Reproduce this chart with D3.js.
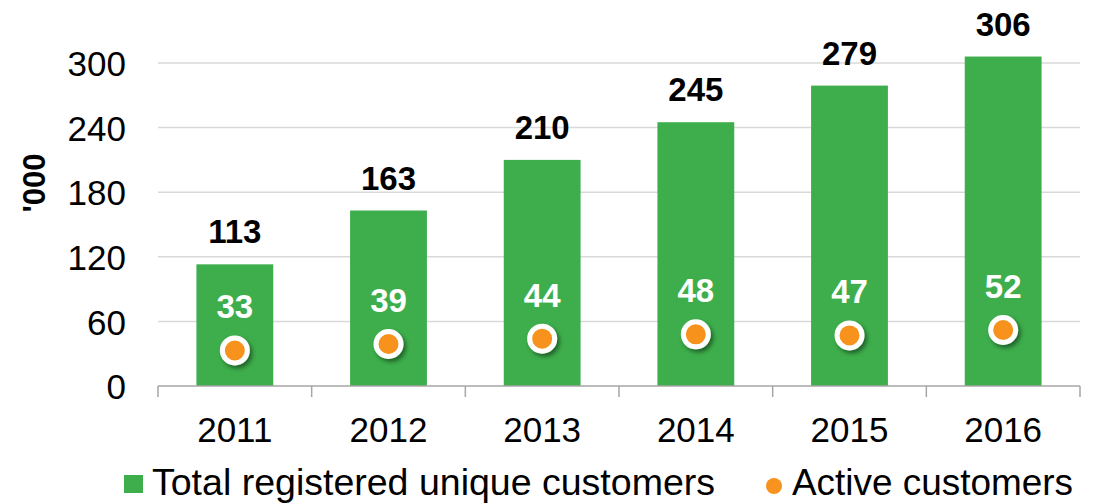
<!DOCTYPE html>
<html>
<head>
<meta charset="utf-8">
<script src="https://cdn.jsdelivr.net/npm/d3@7"></script>
<style>
  body { margin: 0; background: #fff; }
  svg { font-family: Arial, "Liberation Sans", sans-serif; display: block; }
</style>
</head>
<body>
<div id="chart"></div>
<script>
// Chart data
const years = ["2011", "2012", "2013", "2014", "2015", "2016"];
const totalCustomers = [113, 163, 210, 245, 279, 306];
const activeCustomers = [33, 39, 44, 48, 47, 52];
const yTicks = [0, 60, 120, 180, 240, 300];

const width = 1094, height = 504;
const margin = {top: 0, left: 158, right: 14};
const plotTop = 63, plotBottom = 386;

const green = "#3DAE4B", orange = "#F7931E";

const svg = d3.select("#chart").append("svg")
    .attr("width", width)
    .attr("height", height);

// shadow for the dots
const defs = svg.append("defs");
const f = defs.append("filter").attr("id", "shadow")
    .attr("x", "-50%").attr("y", "-50%").attr("width", "200%").attr("height", "200%");
f.append("feDropShadow").attr("dx", 2.5).attr("dy", 3).attr("stdDeviation", 2)
    .attr("flood-color", "#000").attr("flood-opacity", 0.45);

// Scales
const x = d3.scaleBand()
    .domain(years)
    .range([margin.left, width - margin.right])
    .paddingInner(0.5)
    .paddingOuter(0.25);

const y = d3.scaleLinear()
    .domain([0, 300])
    .range([plotBottom, plotTop]);

// Gridlines
svg.append("g")
    .selectAll("line")
    .data(yTicks.filter(d => d > 0))
    .enter().append("line")
    .attr("x1", margin.left)
    .attr("x2", width - margin.right)
    .attr("y1", d => y(d))
    .attr("y2", d => y(d))
    .attr("stroke", "#d9d9d9")
    .attr("stroke-width", 1.5);

// Y axis labels
svg.append("g")
    .attr("transform", "translate(" + margin.left + ",0)")
    .call(d3.axisLeft(y).tickValues(yTicks).tickSize(0).tickPadding(32))
    .call(g => g.select(".domain").remove())
    .call(g => g.selectAll("text")
        .attr("font-size", 35)
        .attr("font-family", "Arial, 'Liberation Sans', sans-serif")
        .attr("fill", "#000")
        .attr("dy", "0.36em"));

// Y axis title
svg.append("text")
    .attr("transform", "translate(45,183) rotate(-90)")
    .attr("text-anchor", "middle")
    .attr("font-size", 31)
    .attr("font-weight", "bold")
    .text("'000");

// Bars
svg.selectAll(".bar")
    .data(years)
    .enter().append("rect")
    .attr("class", "bar")
    .attr("x", d => x(d))
    .attr("width", x.bandwidth())
    .attr("y", (d, i) => y(totalCustomers[i]))
    .attr("height", (d, i) => plotBottom - y(totalCustomers[i]))
    .attr("fill", green);

// X axis line and category ticks
const step = x.step();
const bounds = d3.range(years.length + 1).map(i => margin.left + i * step);
svg.append("line")
    .attr("x1", margin.left).attr("x2", width - margin.right)
    .attr("y1", plotBottom).attr("y2", plotBottom)
    .attr("stroke", "#a6a6a6").attr("stroke-width", 1.5);
svg.append("g").selectAll("line")
    .data(bounds)
    .enter().append("line")
    .attr("x1", d => d).attr("x2", d => d)
    .attr("y1", plotBottom).attr("y2", plotBottom + 11)
    .attr("stroke", "#a6a6a6").attr("stroke-width", 1.5);

// X labels
svg.append("g").selectAll("text")
    .data(years)
    .enter().append("text")
    .attr("x", d => x(d) + x.bandwidth() / 2)
    .attr("y", 442)
    .attr("text-anchor", "middle")
    .attr("font-size", 35)
    .text(d => d);

// Total labels above bars
svg.append("g").selectAll("text")
    .data(years)
    .enter().append("text")
    .attr("x", d => x(d) + x.bandwidth() / 2)
    .attr("y", (d, i) => y(totalCustomers[i]) - 21)
    .attr("text-anchor", "middle")
    .attr("font-size", 33)
    .attr("font-weight", "bold")
    .text((d, i) => totalCustomers[i]);

// Active customer dots
svg.append("g").selectAll("circle")
    .data(years)
    .enter().append("circle")
    .attr("cx", d => x(d) + x.bandwidth() / 2)
    .attr("cy", (d, i) => y(activeCustomers[i]))
    .attr("r", 12.5)
    .attr("fill", orange)
    .attr("stroke", "#fff")
    .attr("stroke-width", 5)
    .attr("filter", "url(#shadow)");

// Active labels
svg.append("g").selectAll("text")
    .data(years)
    .enter().append("text")
    .attr("x", d => x(d) + x.bandwidth() / 2)
    .attr("y", (d, i) => y(activeCustomers[i]) - 32)
    .attr("text-anchor", "middle")
    .attr("font-size", 33)
    .attr("font-weight", "bold")
    .attr("fill", "#fff")
    .text((d, i) => activeCustomers[i]);

// Legend
const legend = svg.append("g");
legend.append("rect")
    .attr("x", 124).attr("y", 475)
    .attr("width", 19).attr("height", 18)
    .attr("fill", green);
legend.append("text")
    .attr("x", 152).attr("y", 495)
    .attr("font-size", 36)
    .attr("textLength", 563)
    .attr("lengthAdjust", "spacingAndGlyphs")
    .text("Total registered unique customers");
legend.append("circle")
    .attr("cx", 774).attr("cy", 486)
    .attr("r", 8)
    .attr("fill", orange);
legend.append("text")
    .attr("x", 792).attr("y", 495)
    .attr("font-size", 36)
    .attr("textLength", 281)
    .attr("lengthAdjust", "spacingAndGlyphs")
    .text("Active customers");
</script>
</body>
</html>
